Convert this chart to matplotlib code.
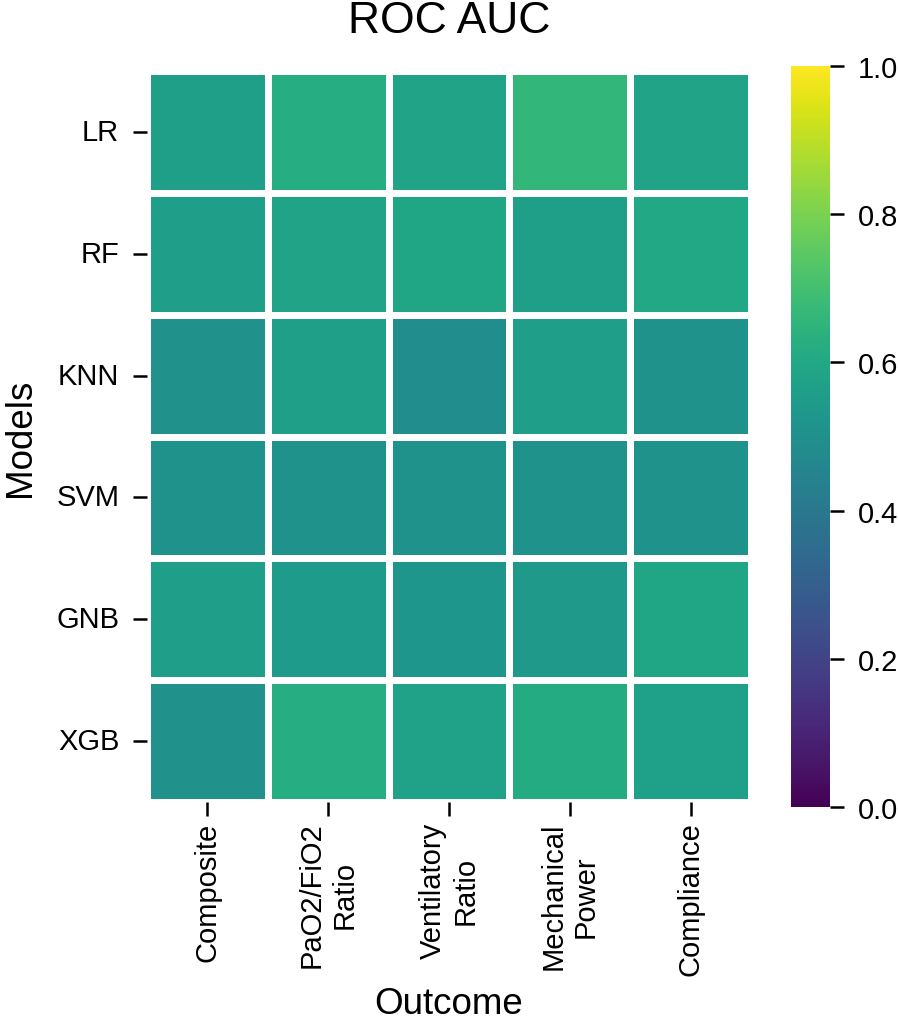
import matplotlib
matplotlib.use("Agg")
import matplotlib.pyplot as plt
import numpy as np
import seaborn as sns

# ── data ──────────────────────────────────────────────────────────────────────
models = ["LR", "RF", "KNN", "SVM", "GNB", "XGB"]
outcomes = ["Composite", "PaO2/FiO2\nRatio", "Ventilatory\nRatio",
            "Mechanical\nPower", "Compliance"]

auc_lr = [0.56, 0.62, 0.58, 0.66, 0.58]
auc_rf = [0.555, 0.58, 0.59, 0.56, 0.60]
auc_knn = [0.50, 0.56, 0.49, 0.555, 0.51]
auc_svm = [0.51, 0.51, 0.51, 0.51, 0.505]
auc_gnb = [0.555, 0.545, 0.525, 0.54, 0.59]
auc_xgb = [0.50, 0.62, 0.575, 0.61, 0.565]

auc = np.array([auc_lr, auc_rf, auc_knn, auc_svm, auc_gnb, auc_xgb])

# ── plot ──────────────────────────────────────────────────────────────────────
plt.rcParams["font.family"] = ["Liberation Sans", "DejaVu Sans"]

fig = plt.figure(figsize=(8.98, 10.2), dpi=100)
ax = fig.add_axes([0.1637, 0.2127, 0.6726, 0.7167])
cax = fig.add_axes([0.8808, 0.2078, 0.0434, 0.7265])

sns.heatmap(auc, ax=ax, cbar_ax=cax, cmap="viridis", vmin=0, vmax=1,
            linewidths=5, linecolor="white",
            xticklabels=outcomes, yticklabels=models)

ax.set_title("ROC AUC", fontsize=32, pad=28)
ax.set_xlabel("Outcome", fontsize=26.5, labelpad=8)
ax.set_ylabel("Models", fontsize=26.5, labelpad=13)
ax.tick_params(axis="y", labelsize=21, length=10, width=1.8, pad=10)
ax.tick_params(axis="x", labelsize=21, length=10, width=1.8, pad=4)
plt.setp(ax.get_xticklabels(), rotation=90, ha="center", va="top")
plt.setp(ax.get_yticklabels(), rotation=0)

cax.tick_params(labelsize=21, length=10, width=1.8, pad=10)
cax.set_yticks([0.0, 0.2, 0.4, 0.6, 0.8, 1.0])
cax.set_yticklabels(["0.0", "0.2", "0.4", "0.6", "0.8", "1.0"])

fig.savefig("out.png", dpi=100)
